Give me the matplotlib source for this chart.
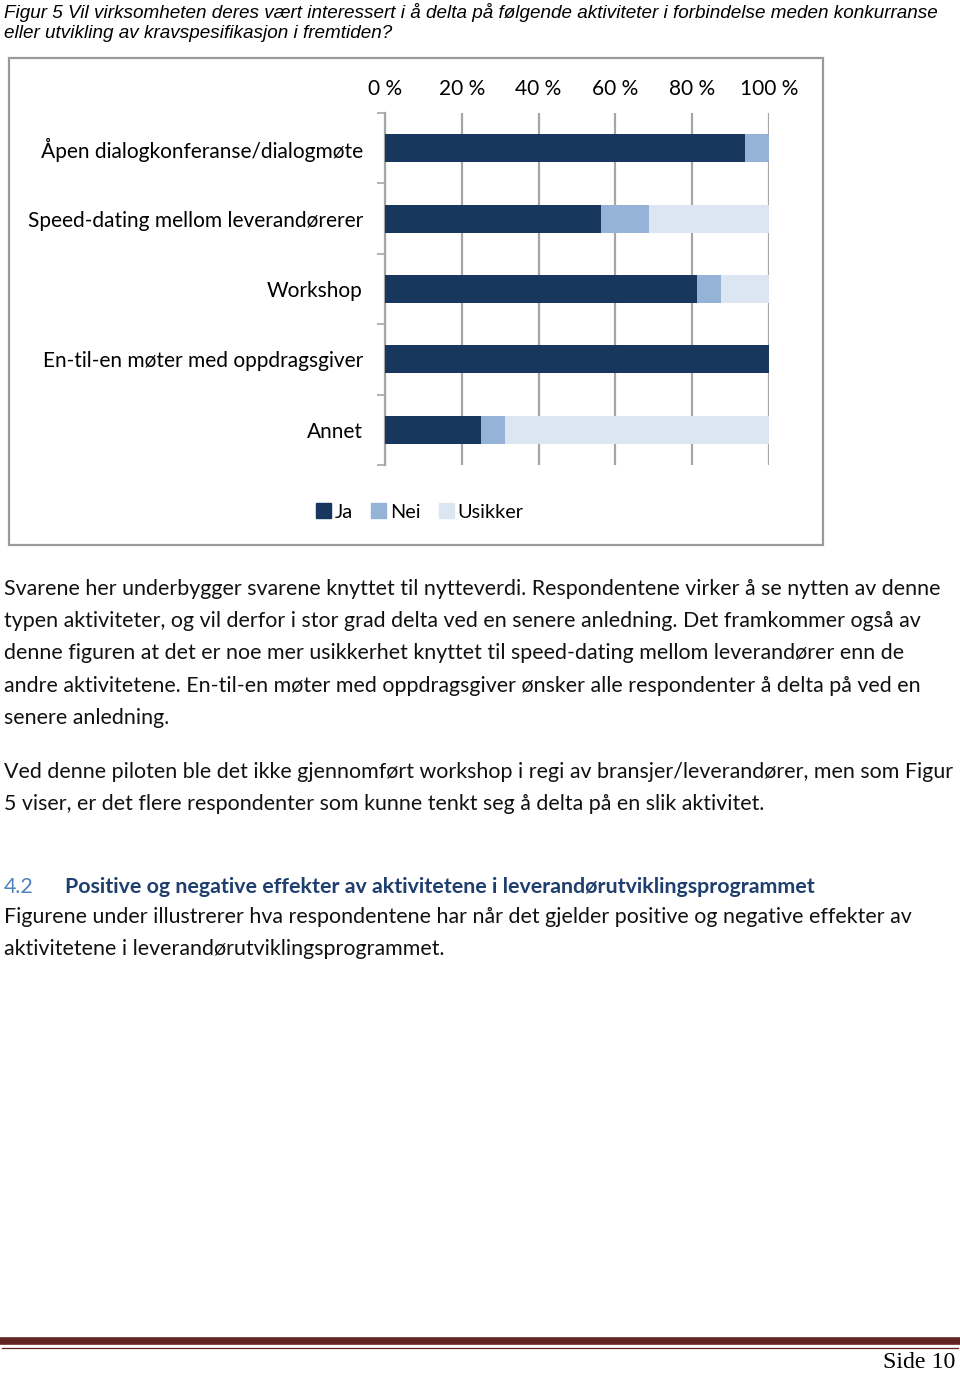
import matplotlib
matplotlib.use("Agg")
import matplotlib.pyplot as plt
import numpy as np
from matplotlib.patches import Rectangle
from matplotlib.lines import Line2D

# ---------------- data ----------------
categories = ["Åpen dialogkonferanse/dialogmøte",
              "Speed-dating mellom leverandørerer",
              "Workshop",
              "En-til-en møter med oppdragsgiver",
              "Annet"]
ja = [93.75, 56.25, 81.25, 100.0, 25.0]
nei = [6.25, 12.5, 6.25, 0.0, 6.25]
usikker = [0.0, 31.25, 12.5, 0.0, 68.75]
series_names = ["Ja", "Nei", "Usikker"]
xticks = [0, 20, 40, 60, 80, 100]
xtick_labels = ["0 %", "20 %", "40 %", "60 %", "80 %", "100 %"]

caption = ["Figur 5 Vil virksomheten deres vært interessert i å delta på følgende aktiviteter i forbindelse meden konkurranse",
           "eller utvikling av kravspesifikasjon i fremtiden?"]
para1 = ["Svarene her underbygger svarene knyttet til nytteverdi. Respondentene virker å se nytten av denne",
         "typen aktiviteter, og vil derfor i stor grad delta ved en senere anledning. Det framkommer også av",
         "denne figuren at det er noe mer usikkerhet knyttet til speed-dating mellom leverandører enn de",
         "andre aktivitetene. En-til-en møter med oppdragsgiver ønsker alle respondenter å delta på ved en",
         "senere anledning."]
para2 = ["Ved denne piloten ble det ikke gjennomført workshop i regi av bransjer/leverandører, men som Figur",
         "5 viser, er det flere respondenter som kunne tenkt seg å delta på en slik aktivitet."]
heading_num = "4.2"
heading = "Positive og negative effekter av aktivitetene i leverandørutviklingsprogrammet"
para3 = ["Figurene under illustrerer hva respondentene har når det gjelder positive og negative effekter av",
         "aktivitetene i leverandørutviklingsprogrammet."]
page_label = "Side 10"

colors = ["#17375E", "#95B3D7", "#DCE6F2"]

W, H = 960, 1374
fig = plt.figure(figsize=(W / 100, H / 100), dpi=100)
renderer = fig.canvas.get_renderer()

def fx(x): return x / W
def fy(y): return 1 - y / H

def fit_size(text, target_px, family, base=14, **kw):
    t = fig.text(0, 0, text, fontsize=base, family=family, **kw)
    w = t.get_window_extent(renderer).width
    t.remove()
    return base * target_px / w

BODY = ["Lato", "DejaVu Sans"]
body_fs = fit_size(para1[0], 933, BODY)
cap_family = ["Liberation Sans Narrow", "Liberation Sans"]
cap_fs = fit_size(caption[0], 934, cap_family, style="italic")

# caption
for i, line in enumerate(caption):
    fig.text(fx(4), fy(12 + 21 * i), line, fontsize=cap_fs, family=cap_family,
             style="italic", va="center", ha="left", color="black")

# chart frame
fig.patches.append(Rectangle((fx(9), fy(545)), fx(823) - fx(9), fy(58) - fy(545),
                             transform=fig.transFigure, fill=False,
                             edgecolor="#9a9a9a", linewidth=1.6))

# axes
ax = fig.add_axes([fx(385), fy(465), fx(769) - fx(385), fy(113) - fy(465)])
y = np.arange(len(categories))
left = np.zeros(len(categories))
for vals, c, name in zip([ja, nei, usikker], colors, series_names):
    ax.barh(y, vals, left=left, height=0.4, color=c, label=name, zorder=3)
    left = left + np.array(vals)
ax.set_xlim(0, 100)
ax.set_ylim(len(categories) - 0.5, -0.5)
ax.set_xticks(xticks)
ax.set_xticklabels(xtick_labels)
ax.xaxis.tick_top()
ax.tick_params(axis="x", length=0, pad=10, labelsize=body_fs * 0.98)
for lbl in ax.get_xticklabels():
    lbl.set_family(BODY)
ax.grid(axis="x", color="#a6a6a6", linewidth=1.6, zorder=0)
ax.set_yticks(np.arange(-0.5, len(categories), 1.0))
ax.set_yticklabels([])
ax.tick_params(axis="y", length=6, width=1.2, color="#a6a6a6", direction="out")
ax.set_yticks(y, minor=True)
ax.set_yticklabels(categories, minor=True, family=BODY, fontsize=body_fs * 0.98)
ax.tick_params(axis="y", which="minor", length=0, pad=16)
for s in ["top", "right", "bottom"]:
    ax.spines[s].set_visible(False)
ax.spines["left"].set_color("#a6a6a6")
ax.spines["left"].set_linewidth(1.6)
ax.set_facecolor("none")

# legend
handles = [Rectangle((0, 0), 1, 1, color=c) for c in colors]
fig.legend(handles, series_names, loc="center", bbox_to_anchor=(fx(420), fy(512)),
           ncol=3, frameon=False, prop={"family": BODY, "size": body_fs * 0.93},
           handlelength=0.75, handleheight=0.75, handletextpad=0.2, columnspacing=0.9)

# body paragraphs
def para(lines, y0, dy=32.2):
    for i, line in enumerate(lines):
        fig.text(fx(4), fy(y0 + dy * i), line, fontsize=body_fs, family=BODY,
                 va="center", ha="left", color="#111111")

para(para1, 589)
para(para2, 772)
fig.text(fx(4), fy(887), heading_num, fontsize=body_fs, family=BODY, color="#4F81BD",
         va="center", ha="left")
fig.text(fx(65), fy(887), heading, fontsize=body_fs, family=BODY, weight="bold",
         color="#1F3F6E", va="center", ha="left")
para(para3, 917)

# footer lines
fig.lines.append(Line2D([fx(2), fx(958)], [fy(1341), fy(1341)], transform=fig.transFigure,
                        color="#632523", linewidth=5.5))
fig.lines.append(Line2D([fx(2), fx(958)], [fy(1347.5), fy(1347.5)], transform=fig.transFigure,
                        color="#632523", linewidth=0.9))
fig.text(fx(955), fy(1363), page_label, fontsize=body_fs * 1.12, family=["Liberation Serif", "DejaVu Serif"],
         ha="right", va="center", color="black")

fig.savefig("out.png", dpi=100)
